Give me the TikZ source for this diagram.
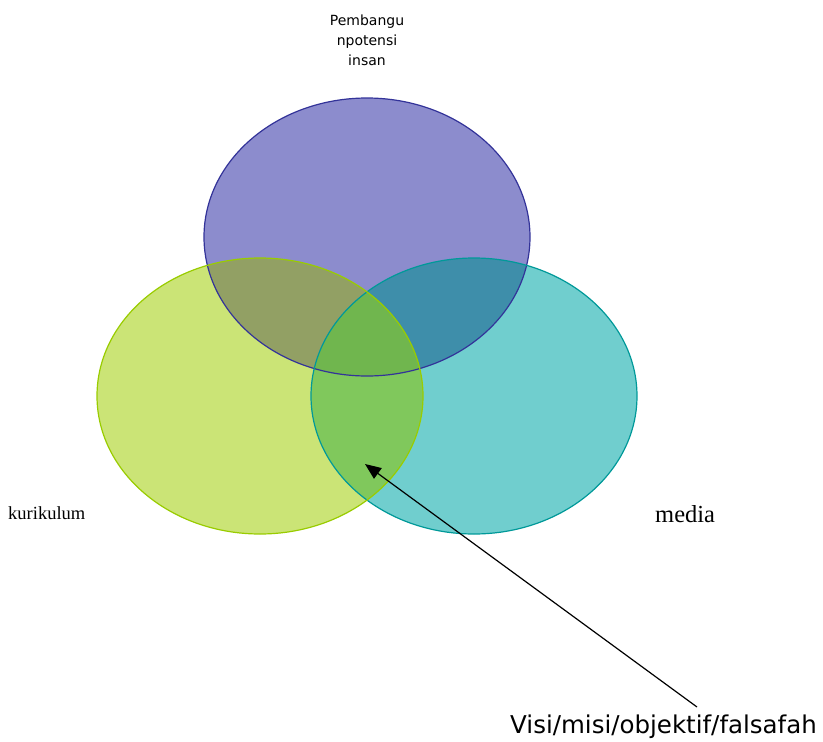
\documentclass[tikz,border=0pt]{standalone}
\usepackage{fontspec}
\setmainfont{Liberation Serif}
\newfontfamily\labelsans{DejaVu Sans}
\usetikzlibrary{arrows.meta}
\definecolor{unguisi}{RGB}{140,140,205}
\definecolor{hijauisi}{RGB}{203,228,118}
\definecolor{birusi}{RGB}{112,206,206}
\definecolor{zaitun}{RGB}{146,160,100}
\definecolor{birutua}{RGB}{62,142,170}
\definecolor{hijautua}{RGB}{128,200,92}
\definecolor{tengah}{RGB}{112,182,78}
\definecolor{unguline}{RGB}{51,51,153}
\definecolor{hijauline}{RGB}{153,204,0}
\definecolor{biruline}{RGB}{0,153,153}
\tikzset{
  ring/.style={line width=1.2pt},
  label/.style={inner sep=0pt},
  pointer/.style={-{Triangle[length=16pt,width=13pt]}, line width=1.2pt}
}

\begin{document}
\begin{tikzpicture}[x=1pt,y=-1pt]
  \useasboundingbox (0,0) rectangle (823,742);
  \coordinate (cU) at (367,237);
  \coordinate (cK) at (260,396);
  \coordinate (cM) at (474,396);

  % single fills
  \fill[unguisi] (cU) ellipse (163 and 139);
  \fill[hijauisi] (cK) ellipse (163 and 138);
  \fill[birusi] (cM) ellipse (163 and 138);
  % overlaps
  \begin{scope}
    \clip (cU) ellipse (163 and 139);
    \fill[zaitun] (cK) ellipse (163 and 138);
    \fill[birutua] (cM) ellipse (163 and 138);
  \end{scope}
  \begin{scope}
    \clip (cK) ellipse (163 and 138);
    \fill[hijautua] (cM) ellipse (163 and 138);
    \clip (cU) ellipse (163 and 139);
    \fill[tengah] (cM) ellipse (163 and 138);
  \end{scope}
  % outlines
  \draw[ring, unguline] (cU) ellipse (163 and 139);
  \draw[ring, biruline] (cM) ellipse (163 and 138);
  \draw[ring, hijauline] (cK) ellipse (163 and 138);

  \node[label, anchor=north, align=center, font=\labelsans\fontsize{14}{20}\selectfont]
    (pembangunan) at (367,15) {Pembangu\\npotensi\\insan};
  \node[label, anchor=base west, font=\fontsize{18.5}{22}\selectfont]
    (kurikulum) at (8,519) {kurikulum};
  \node[label, anchor=base west, font=\fontsize{24.5}{28}\selectfont]
    (media) at (655,522) {media};
  \node[label, anchor=base west, font=\labelsans\fontsize{24.5}{28}\selectfont]
    (visi) at (510,733) {Visi/misi/objektif/falsafah};

  \coordinate (pangkal) at (697,707);
  \coordinate (pusat) at (365,464);
  \draw[pointer] (pangkal) -- (pusat);
\end{tikzpicture}
\end{document}
